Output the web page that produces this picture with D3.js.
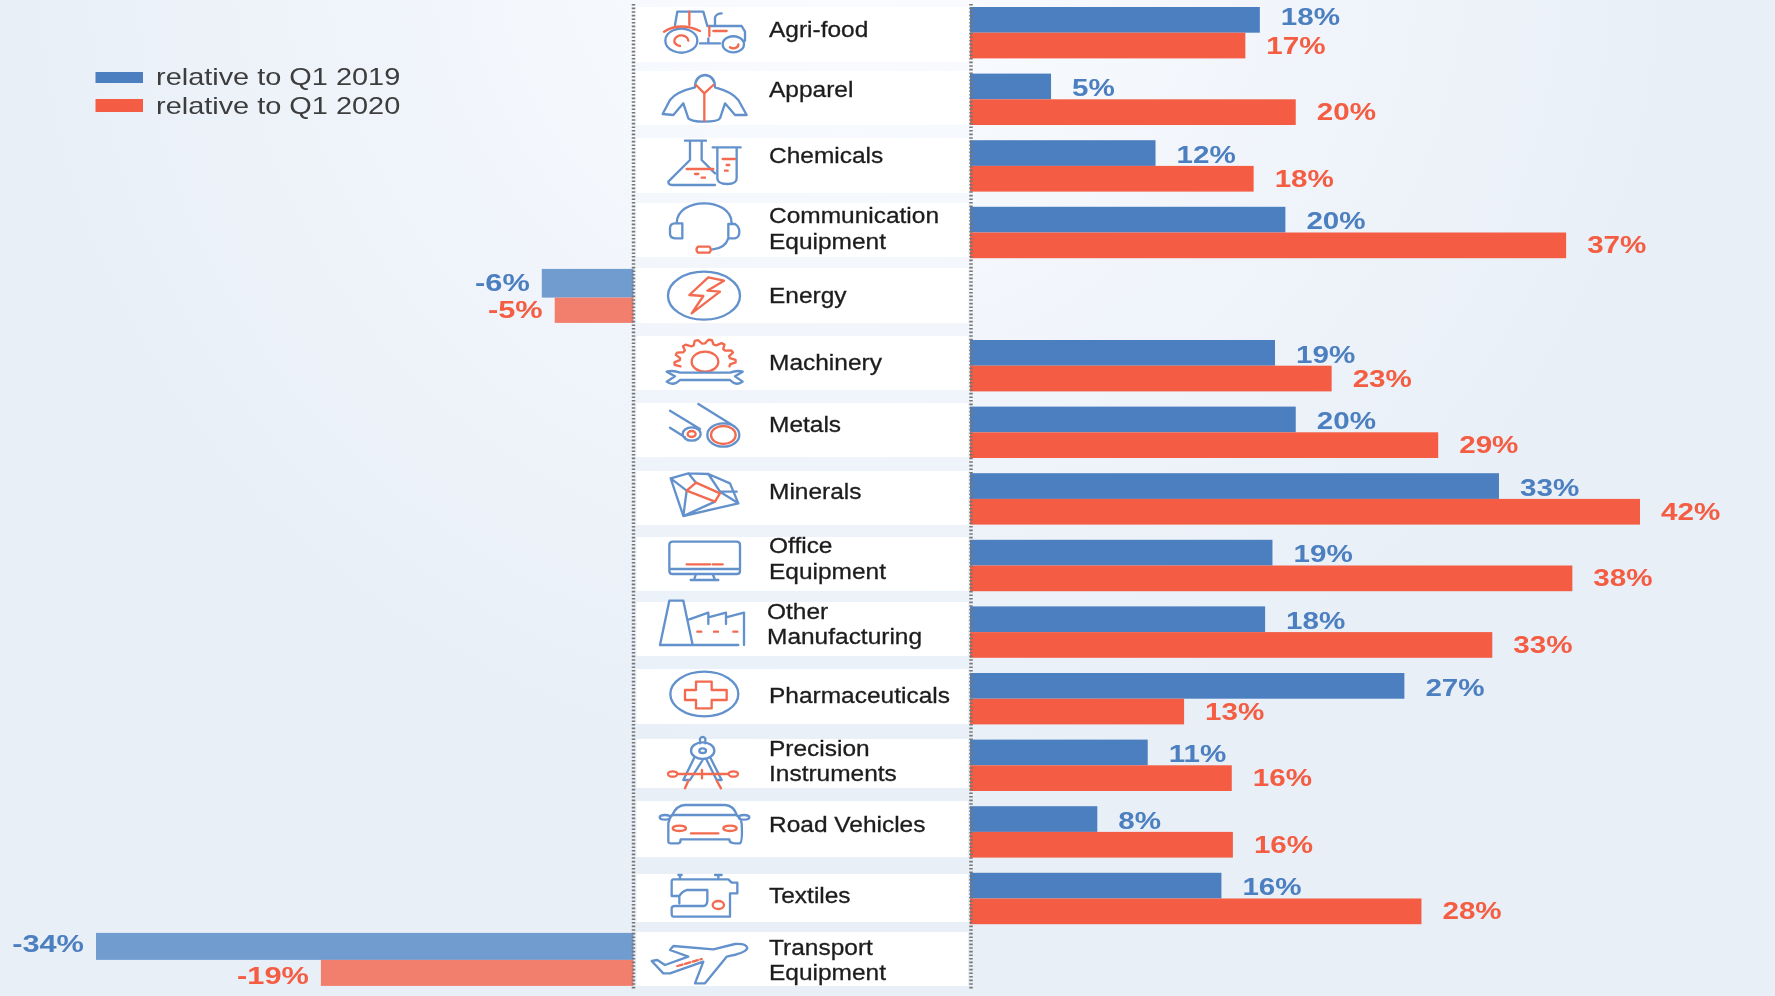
<!DOCTYPE html>
<html><head><meta charset="utf-8">
<script src="https://cdn.jsdelivr.net/npm/d3@7"></script>
<style>html,body{margin:0;padding:0;background:#e8eff7}svg{display:block}text{font-family:"Liberation Sans",Arial,sans-serif}</style>
</head><body><svg id="c" width="1775" height="996"></svg>
<script>
// ---------- data ----------
const categories = ["Agri-food","Apparel","Chemicals","Communication\nEquipment","Energy","Machinery","Metals","Minerals","Office\nEquipment","Other\nManufacturing","Pharmaceuticals","Precision\nInstruments","Road Vehicles","Textiles","Transport\nEquipment"];
const seriesNames = ["relative to Q1 2019","relative to Q1 2020"];
const valuesQ12019 = [18.17,5.08,11.63,19.77,-5.75,19.12,20.42,33.16,18.96,18.5,27.23,11.14,7.98,15.76,-33.7];
const valuesQ12020 = [17.26,20.42,17.78,37.37,-4.94,22.67,29.35,42,37.76,32.74,13.42,16.41,16.48,28.3,-19.6];
const labelsQ12019 = ["18%","5%","12%","20%","-6%","19%","20%","33%","19%","18%","27%","11%","8%","16%","-34%"];
const labelsQ12020 = ["17%","20%","18%","37%","-5%","23%","29%","42%","38%","33%","13%","16%","16%","28%","-19%"];

// ---------- layout (separate from the data) ----------
const W=1775,H=996, BLUE="#4c7fc0", RED="#f45d43", BLUE_NEG="#709cd0", RED_NEG="#f27e6d", IC_B="#6391cc", IC_R="#f26a50";
const panelTop=[7,71,138,203,268,336,403,471,537,602,669,739,801,874,932];
const panelBot=[62,125,193,257,323,390,457,525,591,656,724,788,857,922,986];
const rowShift=[0,0,0,0,-4.5,0,0,0,0,0,0,0,0,0,-6.5];
const catBase=[[36.7],[96.7],[163],[223,249],[302.7],[370],[432],[499],[553,579],[618.7,644],[702.7],[755.7,781],[832],[903],[954.7,980]];
const catX=categories.map((d,i)=>i===9?767:769);

const svg=d3.select("#c");
const defs=svg.append("defs");
const g0=defs.append("radialGradient").attr("id","bg").attr("gradientUnits","userSpaceOnUse")
  .attr("cx",850).attr("cy",-60).attr("r",1000);
g0.append("stop").attr("offset",0).attr("stop-color","#fbfcff");
g0.append("stop").attr("offset",.85).attr("stop-color","#e8eff7");
defs.append("filter").attr("id","soft").append("feGaussianBlur").attr("stdDeviation",0.45);
svg.append("rect").attr("width",W).attr("height",H).attr("fill","url(#bg)");

const x=d3.scaleLinear().domain([0,42]).range([970,1640]);
const xNeg=d3.scaleLinear().domain([-34,0]).range([633.5-34*15.95,633.5]);
const y=d3.scaleBand().domain(d3.range(15)).range([7,7+66.6*15]).paddingInner(0);
const barH=25.7;

// white rows
svg.append("g").selectAll("rect").data(categories).join("rect")
  .attr("x",636.5).attr("width",331.5)
  .attr("y",(d,i)=>panelTop[i]).attr("height",(d,i)=>panelBot[i]-panelTop[i]).attr("fill","#fff");

// bars
const rows=categories.map((c,i)=>({i,a:valuesQ12019[i],b:valuesQ12020[i],la:labelsQ12019[i],lb:labelsQ12020[i]}));
const bars=svg.append("g");
rows.forEach(r=>{
  const top=y(r.i)+rowShift[r.i], neg=r.a<0;
  const h1=neg?(r.i===4?28.7:27):barH, h2=neg?(r.i===4?25.3:26):barH;
  const drawBar=(v,yy,h,col)=>{
    const X0=v<0?xNeg(v):x(0), X1=v<0?xNeg(0):x(v);
    bars.append("rect").attr("x",X0).attr("y",yy).attr("width",X1-X0).attr("height",h).attr("fill",col);
  };
  drawBar(r.a,top,h1,neg?BLUE_NEG:BLUE);
  drawBar(r.b,top+h1,h2,neg?RED_NEG:RED);
});

// value labels
const lab=svg.append("g").attr("filter","url(#soft)").attr("font-size",23.5).attr("font-weight",700);
rows.forEach(r=>{
  const top=y(r.i);
  const put=(v,t,base,col)=>{
    const neg=v<0;
    lab.append("text").text(t).attr("fill",col).attr("text-anchor",neg?"end":"start")
      .attr("transform",`translate(${neg?xNeg(v)-12:x(v)+21},${base}) scale(${neg?1.31:1.26},1)`);
  };
  const neg=r.a<0;
  const b1=neg?(r.i===4?291:952):top+(r.i===0?17.5:22.5);
  const b2=neg?(r.i===4?318:983.5):top+46.5;
  put(r.a,r.la,b1,BLUE); put(r.b,r.lb,b2,RED);
});

// category labels
const cat=svg.append("g").attr("filter","url(#soft)").attr("font-size",22).attr("fill","#1c1c1c").attr("stroke","#1c1c1c").attr("stroke-width",0.3);
categories.forEach((c,i)=>c.split("\n").forEach((t,j)=>{
  cat.append("text").text(t).attr("transform",`translate(${catX[i]},${catBase[i][j]}) scale(1.113,1)`);
}));

// dotted axes
[633.5,971].forEach(X=>svg.append("line").attr("x1",X).attr("x2",X).attr("y1",4).attr("y2",990)
  .attr("stroke","#777").attr("stroke-width",3.5).attr("stroke-dasharray","1.6 2"));

// legend
const leg=svg.append("g");
[[72,11,BLUE,84.5],[99,13,RED,113.7]].forEach((o,i)=>{
  leg.append("rect").attr("x",95.5).attr("y",o[0]).attr("width",47.5).attr("height",o[1]).attr("fill",o[2]);
  leg.append("text").text(seriesNames[i]).attr("font-size",24).attr("fill","#3c3c3c").attr("filter","url(#soft)")
    .attr("transform",`translate(156,${o[3]}) scale(1.205,1)`);
});

// icons (drawn in a 3x local space)
const gearPath=(()=>{const cx=255,cy=95,pts=[];const n=8;
  for(let k=0;k<=n*4;k++){const a=(-195+ k*(210/(n*4)))*Math.PI/180;const R=(k%4===1||k%4===2)?92:76;pts.push([cx+R*Math.cos(a),cy+R*Math.sin(a)*.72]);}
  return d3.line()(pts);})();
const icons=[
 [0,[["b","M165 75L172 35H250L262 78H365L375 95V122M285 76V52Q290 40 305 40M240 130H300M265 115V130"],["b","M232 122A48 36 0 1 1 232 121.9M372 133A32 24 0 1 1 372 132.9"],
     ["r","M208 35V75M132 95Q180 65 240 93M268 80V108M280 93H320M205 122A21 16 0 1 0 180 138M355 133A15 11 0 0 1 330 142"]]],
 [0,[["b","M225 262C190 270 165 280 150 300L128 342L160 345L190 310L205 355Q215 365 252 365Q295 365 300 355L315 310L345 345H380L355 300C340 280 315 270 285 262M225 262Q225 228 255 225Q285 228 285 262"],["r","M228 255L253 280L280 255M253 280V362"]]],
 [0,[["b","M195 422H258M210 425V480L145 545Q145 555 160 555H285M245 425V480L285 520M278 442H362M292 442V535Q292 552 322 552Q350 552 350 535V442"],["r","M200 507H280M225 522h10M245 533h10M308 477H345M320 495h8M315 512h8"]]],
 [0,[["b","M170 670C170 590 335 590 335 670M150 685Q150 670 165 670H187V715H165Q150 715 150 700ZM325 672H345Q358 680 358 695Q358 712 345 715H325ZM325 715Q315 745 278 748"],["r","M234 740H268Q277 749 268 758H234Q225 749 234 740Z"]]],
 [0,[["b","M144 887A108 72 0 1 1 360 887A108 72 0 1 1 144 887Z"],["r","M265 832L208 885L250 888L215 940L300 875L262 872L312 842Z"]]],
 [330,[["r",gearPath],["r","M215 95A40 30 0 1 1 295 95A40 30 0 1 1 215 95Z"],["b","M180 128H330Q350 120 368 125L345 139L368 155Q350 170 330 150H180Q160 170 140 155L165 139L140 125Q160 120 180 128Z"]]],
 [330,[["b","M150 242L240 297M150 293L195 322M235 222L345 290M188 312A27 20 0 1 1 242 312A27 20 0 1 1 188 312ZM262 315A48 35 0 1 1 358 315A48 35 0 1 1 262 315Z"],["r","M203 312A12 9 0 1 1 227 312A12 9 0 1 1 203 312ZM273 315A37 27 0 1 1 347 315A37 27 0 1 1 273 315Z"]]],
 [330,[["b","M152 445L205 430L265 432L330 460L355 520L190 558ZM152 445L200 482L190 558M205 430L228 458M265 432L300 485L355 520M285 515L190 558M300 485H350"],["r","M228 458L300 490L285 515L200 482Z"]]],
 [330,[["b","M148 715V645Q148 635 158 635H350Q360 635 360 645V715M148 717H360V722Q360 732 350 732H158Q148 732 148 722ZM228 732L222 750H285L278 732M212 750H295"],["r","M200 703H270M278 703H308"]]],
 [330,[["b","M120 945L148 812H190L218 945M120 945H355M208 868L265 848V882M265 862L318 848V882M318 862L372 848V945"],["r","M232 905h12M282 905h12M340 905h12"]]],
 [660,[["b","M151 102A102 67 0 1 1 355 102A102 67 0 1 1 151 102Z"],["r","M228 65H275V90H320V120H275V145H228V120H195V90H228Z"]]],
 [660,[["b","M213 272A35 25 0 1 1 283 272A35 25 0 1 1 213 272ZM238 272A10 7 0 1 1 258 272A10 7 0 1 1 238 272ZM240 250V236Q248 225 256 236V250M222 295L190 360H210L248 300M272 295L305 360H290L260 300"],
      ["r","M144 342A14 8 0 1 1 172 342A14 8 0 1 1 144 342ZM326 342A14 8 0 1 1 354 342A14 8 0 1 1 326 342ZM172 342H326M205 362L195 385M290 362L303 385M246 330V355"]]],
 [660,[["b","M155 468Q170 435 195 435H315Q340 435 352 468M145 490V545Q145 550 160 550H175Q182 550 182 538H328Q328 550 345 550H360Q368 545 365 490Q360 470 350 465H155Q148 475 145 490ZM119 472A16 7 0 1 1 151 472A16 7 0 1 1 119 472ZM356 472A16 7 0 1 1 388 472A16 7 0 1 1 356 472Z"],
      ["r","M158 505A20 8 0 1 1 198 505A20 8 0 1 1 158 505ZM310 505A20 8 0 1 1 350 505A20 8 0 1 1 310 505ZM213 520H295"]]],
 [660,[["b","M160 658H325L335 668H352V700H330V770H160Q155 770 155 760V745Q155 738 165 738H250Q262 738 262 720V690H200Q185 695 178 708H155V665Q155 658 160 658ZM175 645H185M180 645V658M285 645H305M295 645V658M178 708V730"],["r","M278 735A17 12 0 1 1 312 735A17 12 0 1 1 278 735Z"]]],
 [660,[["b","M95 903L112 900L135 915L205 890L150 870L160 858L280 868L345 852Q380 850 382 865Q375 880 320 890L255 970H225L250 905L150 940H130Z"],["r","M172 918L245 897"]]]
];
const ic=svg.append("g").attr("filter","url(#soft)").attr("fill","none").attr("stroke-linejoin","round").attr("stroke-linecap","round");
icons.forEach(([off,parts],i)=>{
  const g=ic.append("g").attr("transform",`translate(620,${off}) scale(${1/3})`);
  parts.forEach(([c,d])=>g.append("path").attr("d",d).attr("stroke",c==="b"?IC_B:IC_R).attr("stroke-width",7)
     .attr("stroke-dasharray",i===14&&c==="r"?"16 8":null));
});
</script></body></html>
